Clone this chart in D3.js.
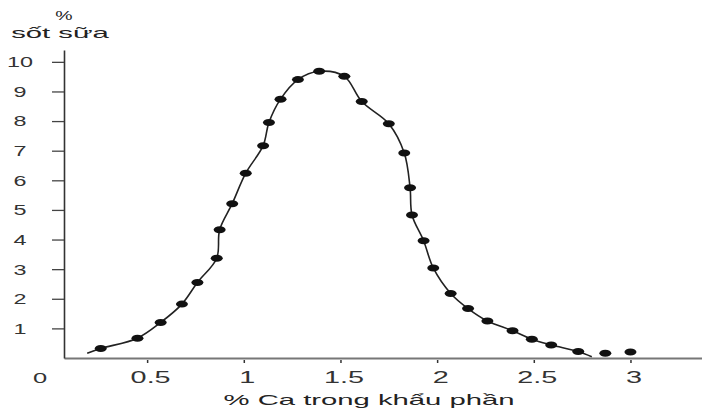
<!DOCTYPE html>
<html lang="vi">
<head>
    <meta charset="utf-8" />
    <title>Sốt sữa theo % Ca trong khẩu phần</title>
    <script src="https://d3js.org/d3.v7.min.js"></script>
    <style>
        body {
            margin: 0;
            background: white;
        }
        svg {
            display: block;
            background-color: white;
        }
        text {
            font-family: 'Liberation Sans', Arial, sans-serif;
            fill: #222;
        }
    </style>
</head>
<body>
    <script>

        // % Ca in the ration (x) and % milk fever (y) for each dot
        const caPct = [0.26, 0.45, 0.57, 0.68, 0.76, 0.86, 0.875, 0.94, 1.01, 1.10, 1.13,
            1.19, 1.28, 1.39, 1.52, 1.61, 1.75, 1.83, 1.86, 1.87, 1.93, 1.98,
            2.07, 2.16, 2.26, 2.39, 2.49, 2.59, 2.73, 2.87, 3.0];
        const feverPct = [0.32, 0.67, 1.2, 1.82, 2.55, 3.37, 4.33, 5.21, 6.24, 7.17, 7.95,
            8.74, 9.40, 9.68, 9.51, 8.66, 7.91, 6.92, 5.75, 4.83, 3.96, 3.04,
            2.18, 1.67, 1.25, 0.92, 0.63, 0.44, 0.22, 0.16, 0.20];

        // Ends of the drawn curve (the curve stops before the last two dots)
        const curveStart = [0.19, 0.16];
        const curveEnd = [2.80, 0.04];
        const curveDots = 29;

        // Tick labels
        const xTicks = [0.5, 1, 1.5, 2, 2.5, 3];
        const yTicks = [1, 2, 3, 4, 5, 6, 7, 8, 9, 10];
        const originLabel = "0";
        const yTitle = ["%", "sốt sữa"];
        const xTitle = "% Ca trong khẩu phần";

        const width = 702;
        const height = 408;
        const axisX = 64;
        const axisY = 358;

        const svg = d3.select("body")
            .append("svg")
            .attr("width", width)
            .attr("height", height);

        // Scales
        const xScale = d3.scaleLinear()
            .domain([0.07, 3.37])
            .range([axisX, width]);

        const yScale = d3.scaleLinear()
            .domain([0, 10.4])
            .range([axisY, 50]);

        // Wide, stretched lettering like the scanned original
        function stretch(sel, k) {
            sel.attr("transform", function () {
                const t = d3.select(this).attr("transform") || "";
                return t + ` scale(${k},1)`;
            });
        }

        // X axis
        const xAxis = svg.append("g")
            .attr("transform", `translate(0,${axisY})`)
            .call(d3.axisBottom(xScale)
                .tickValues(xTicks)
                .tickSize(5)
                .tickSizeOuter(0)
                .tickFormat(d => String(d)));

        xAxis.select(".domain")
            .attr("stroke", "#777")
            .attr("stroke-width", 2);
        xAxis.selectAll(".tick line")
            .attr("stroke", "#333")
            .attr("stroke-width", 1.5)
            .attr("y1", 2);
        xAxis.selectAll(".tick text")
            .attr("y", 0)
            .attr("dy", 0)
            .attr("transform", "translate(3,25)")
            .style("font-size", "16px")
            .style("fill", "#333")
            .call(stretch, 1.8);

        // Y axis
        const yAxis = svg.append("g")
            .attr("transform", `translate(${axisX},0)`)
            .call(d3.axisLeft(yScale)
                .tickValues(yTicks)
                .tickSize(12)
                .tickSizeOuter(0));

        yAxis.select(".domain")
            .attr("stroke", "#333")
            .attr("stroke-width", 1.6);
        yAxis.selectAll(".tick line")
            .attr("stroke", "#444")
            .attr("stroke-width", 1.3);
        yAxis.selectAll(".tick text")
            .attr("x", 0)
            .attr("dy", "0.35em")
            .attr("text-anchor", "middle")
            .attr("transform", "translate(-44,0)")
            .style("font-size", "14px")
            .style("fill", "#333")
            .call(stretch, 1.67);

        // Origin label
        svg.append("text")
            .attr("transform", "translate(40,383)")
            .attr("text-anchor", "middle")
            .style("font-size", "15px")
            .style("fill", "#333")
            .text(originLabel)
            .call(stretch, 1.7);

        // Y axis title (two lines)
        svg.append("text")
            .attr("transform", "translate(64,20)")
            .attr("text-anchor", "middle")
            .style("font-size", "13px")
            .text(yTitle[0])
            .call(stretch, 1.5);
        svg.append("text")
            .attr("transform", "translate(60,38)")
            .attr("text-anchor", "middle")
            .style("font-size", "15px")
            .text(yTitle[1])
            .call(stretch, 1.95);

        // X axis title
        svg.append("text")
            .attr("transform", "translate(369,405)")
            .attr("text-anchor", "middle")
            .style("font-size", "15px")
            .text(xTitle)
            .call(stretch, 1.95);

        // Curve through the dots
        const points = caPct.map((c, i) => [c, feverPct[i]]);
        const curvePoints = [curveStart].concat(points.slice(0, curveDots), [curveEnd]);

        const line = d3.line()
            .x(d => xScale(d[0]))
            .y(d => yScale(d[1]))
            .curve(d3.curveCatmullRom.alpha(0.5));

        svg.append("path")
            .datum(curvePoints)
            .attr("d", line)
            .attr("fill", "none")
            .attr("stroke", "#222")
            .attr("stroke-width", 1.6);

        // Dots
        svg.selectAll("ellipse")
            .data(points)
            .enter()
            .append("ellipse")
            .attr("cx", d => xScale(d[0]))
            .attr("cy", d => yScale(d[1]))
            .attr("rx", 6)
            .attr("ry", 3.5)
            .attr("fill", "#111");

    </script>
</body>
</html>
